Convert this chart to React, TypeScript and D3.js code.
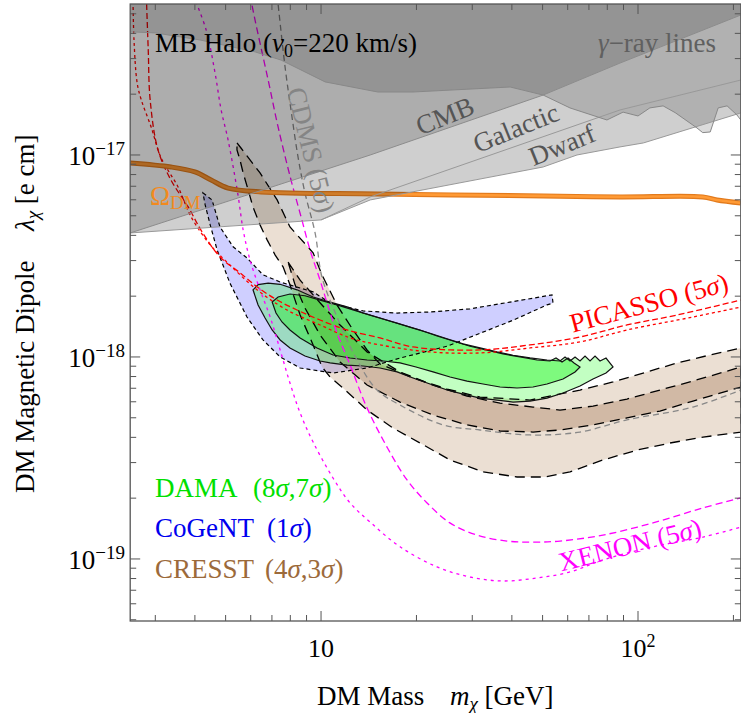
import React from 'react';
import * as d3 from 'd3';

type Pt = [number, number];

const W = 741;
const H = 713;
const FONT = "'Liberation Serif', 'DejaVu Serif', 'Times New Roman', serif";

// axis ranges: mass in GeV, dipole in units of 1e-18 e cm
const MASS_RANGE: [number, number] = [2.5, 211];
const LAMBDA_RANGE: [number, number] = [0.0493, 55.9];
const LAMBDA_EXP = -18;

// indirect / cosmological bounds (region above each curve is excluded)
const GAMMA_MASS = [2.5, 3.0, 4.15, 6.19, 7.48, 10.3, 15.1, 19.5, 39.5, 50.2, 61.0, 79.8, 89.7, 100, 109, 120, 131, 153.5, 160, 169, 179, 191, 205, 211];
const GAMMA_LAMBDA = [40.7, 40.2, 37.1, 32.4, 29.5, 23.0, 20.5, 20.5, 21.7, 19.8, 17.1, 14.9, 16.3, 15.6, 17.1, 17.5, 16.2, 13.6, 12.9, 13.0, 17.1, 17.5, 15.8, 14.9];
const CMB_MASS = [2.5, 10, 14.3, 50.2, 87.7, 211];
const CMB_LAMBDA = [4.11, 8.33, 10.0, 19.8, 28.5, 49.3];
const GALACTIC_MASS = [10, 14.3, 87.7, 211];
const GALACTIC_LAMBDA = [4.77, 6.2, 16.7, 23.5];
const DWARF_MASS = [2.5, 10, 14.3, 50.2, 64.2, 87.7, 104, 211];
const DWARF_LAMBDA = [4.11, 4.77, 5.99, 8.72, 10.0, 10.96, 11.47, 16.15];

// relic abundance line
const OMEGA_MASS = [2.5, 3.36, 4.0, 4.5, 5.09, 6.47, 15.1, 50.2, 87.7, 160, 177.5, 211];
const OMEGA_LAMBDA = [9.13, 8.72, 8.24, 7.52, 6.86, 6.56, 6.41, 6.27, 6.2, 6.2, 5.99, 5.79];

// direct detection limits
const PICASSO_A_MASS = [2.81, 2.85, 2.89, 3.06, 3.36, 3.81, 4.18, 4.80, 5.55, 6.28, 7.27, 8.40, 9.93, 12.08, 15.35, 19.5, 31.7, 45.6, 65.6, 92.3, 132.8, 211];
const PICASSO_A_LAMBDA = [61.9, 33.1, 18.73, 10.59, 7.52, 5.53, 4.25, 3.125, 2.61, 2.225, 1.914, 1.708, 1.524, 1.36, 1.242, 1.121, 1.083, 1.147, 1.256, 1.44, 1.613, 1.914];
const PICASSO_B_MASS = [2.55, 2.57, 2.63, 2.71, 2.91, 3.13, 3.54, 3.89, 4.47, 5.16, 6.28, 7.81, 9.93, 12.35, 15.35, 22.07, 31.74, 45.64, 65.62, 92.3, 149.1, 211];
const PICASSO_B_LAMBDA = [61.9, 37.1, 22.7, 18.73, 13.76, 9.67, 6.94, 4.94, 3.59, 2.853, 2.15, 1.708, 1.44, 1.242, 1.147, 1.059, 1.047, 1.108, 1.187, 1.36, 1.577, 1.767];
const XENON_A_MASS = [5.97, 6.19, 6.81, 7.32, 8.04, 8.65, 9.23, 9.93, 10.45, 11.23, 12.35, 13.97, 16.15, 18.68, 21.6, 25.5, 31.06, 38.6, 46.6, 56.75, 77.5, 111.5, 160.4, 211];
const XENON_A_LAMBDA = [61.9, 46.6, 23.5, 13.76, 7.52, 4.94, 3.39, 2.40, 1.85, 1.314, 0.912, 0.559, 0.358, 0.246, 0.1894, 0.1508, 0.1313, 0.1226, 0.1212, 0.1226, 0.1313, 0.1508, 0.179, 0.2005];
const XENON_B_MASS = [3.95, 4.34, 4.63, 4.84, 5.09, 5.47, 5.68, 5.97, 6.42, 6.91, 7.43, 7.98, 8.59, 9.44, 10.91, 12.35, 14.38, 17.75, 23.23, 29.52, 37.5, 48.0, 61.0, 77.5, 111.5, 160.4, 211];
const XENON_B_LAMBDA = [61.9, 41.6, 25.5, 16.71, 11.87, 6.34, 4.25, 3.02, 2.15, 1.577, 1.083, 0.743, 0.528, 0.379, 0.2517, 0.1894, 0.1508, 0.1149, 0.0913, 0.0814, 0.0778, 0.0805, 0.0862, 0.0989, 0.1149, 0.1283, 0.1438];
const CDMS_MASS = [7.27, 7.70, 8.04, 8.46, 8.90, 9.58, 10.07, 11.23, 12.99, 15.02, 17.75, 24.26, 31.74, 45.64, 65.62, 92.3, 149.1, 211];
const CDMS_LAMBDA = [61.9, 27.3, 16.71, 9.78, 6.485, 4.107, 2.483, 1.577, 0.966, 0.686, 0.578, 0.461, 0.435, 0.411, 0.425, 0.488, 0.565, 0.686];

// signal regions (closed contours)
const DAMA_OUTER_MASS = [6.10, 6.33, 6.81, 7.43, 8.40, 9.44, 10.68, 12.08, 13.57, 15.35, 17.37, 19.51, 22.07, 24.98, 28.05, 31.74, 35.91, 40.34, 45.64, 51.63, 56.75, 58.85, 61.03, 63.29, 65.62, 68.05, 70.57, 73.18, 75.88, 79.26, 83.4, 79.26, 72.12, 65.62, 58.0, 51.63, 45.64, 40.34, 35.91, 31.74, 28.05, 24.98, 22.07, 19.51, 17.37, 15.35, 13.57, 12.08, 10.68, 9.93, 8.90, 7.98, 7.43, 7.01, 6.66, 6.33];
const DAMA_OUTER_LAMBDA = [2.15, 2.28, 2.32, 2.29, 2.15, 1.98, 1.87, 1.77, 1.65, 1.56, 1.47, 1.39, 1.31, 1.23, 1.16, 1.11, 1.06, 1.02, 0.99, 0.966, 0.955, 1.0, 0.955, 1.0, 0.955, 1.01, 0.955, 1.01, 0.955, 0.988, 0.892, 0.833, 0.778, 0.718, 0.663, 0.626, 0.605, 0.598, 0.612, 0.626, 0.655, 0.686, 0.735, 0.787, 0.843, 0.882, 0.902, 0.912, 0.934, 0.955, 1.011, 1.108, 1.214, 1.36, 1.56, 1.81];
const DAMA_INNER_MASS = [7.01, 7.32, 7.98, 8.90, 9.93, 11.23, 12.62, 14.28, 16.15, 18.14, 20.53, 23.23, 26.09, 29.52, 33.39, 37.5, 42.44, 48.02, 52.77, 55.12, 57.58, 60.15, 62.83, 65.62, 63.29, 58.0, 51.63, 46.64, 41.53, 36.7, 32.44, 28.88, 25.53, 22.56, 19.94, 17.75, 15.69, 13.97, 12.35, 10.91, 9.71, 8.59, 7.98, 7.53, 7.21];
const DAMA_INNER_LAMBDA = [1.87, 1.98, 2.05, 2.01, 1.91, 1.81, 1.71, 1.61, 1.52, 1.44, 1.36, 1.27, 1.20, 1.13, 1.08, 1.035, 1.0, 0.966, 0.955, 0.988, 0.944, 0.988, 0.934, 0.892, 0.843, 0.778, 0.735, 0.71, 0.702, 0.71, 0.735, 0.76, 0.796, 0.843, 0.892, 0.934, 0.955, 0.966, 0.988, 1.023, 1.108, 1.242, 1.36, 1.49, 1.65];
const COGENT_MASS = [4.24, 4.53, 4.80, 5.28, 5.84, 6.56, 7.43, 9.44, 10.68, 13.57, 17.37, 22.07, 29.52, 39.47, 49.08, 53.55, 53.93, 51.63, 40.34, 31.74, 24.98, 17.75, 13.97, 10.91, 8.59, 7.43, 6.56, 5.84, 5.16, 4.70, 4.47, 4.31];
const COGENT_LAMBDA = [6.49, 5.99, 4.40, 3.51, 3.09, 2.55, 2.35, 2.10, 1.85, 1.69, 1.65, 1.67, 1.73, 1.87, 1.98, 2.03, 1.85, 1.81, 1.52, 1.31, 1.13, 0.988, 0.882, 0.833, 0.882, 1.0, 1.214, 1.577, 2.319, 3.39, 4.51, 5.66];
const CRESST_OUTER_MASS = [5.43, 5.59, 6.42, 7.27, 7.98, 9.44, 10.07, 11.23, 12.62, 13.97, 15.35, 19.51, 24.98, 31.74, 45.64, 65.62, 83.4, 94.36, 132.8, 168.7, 211.3,
  211.3, 160.4, 126.2, 99.3, 77.5, 61.03, 50.9, 41.53, 32.44, 25.53, 20.53, 16.87, 13.97, 11.73, 10.68, 10.07, 9.44, 8.59, 7.98, 7.59, 7.16, 6.76, 6.42, 6.10, 5.89, 5.68, 5.55, 5.43];
const CRESST_OUTER_LAMBDA = [11.47, 10.83, 8.15, 5.99, 4.40, 3.28, 2.55, 1.808, 1.36, 1.083, 0.923, 0.787, 0.694, 0.633, 0.612, 0.686, 0.752, 0.796, 0.934, 1.023, 1.108,
  0.425, 0.401, 0.375, 0.346, 0.309, 0.27, 0.2546, 0.2546, 0.27, 0.309, 0.375, 0.445, 0.546, 0.702, 0.796, 0.892, 1.147, 1.613, 2.276, 2.794, 3.202, 3.80, 4.506, 5.53, 6.71, 8.147, 9.45, 10.59];
const CRESST_INNER_MASS = [7.87, 8.59, 9.44, 10.07, 11.48, 13.97, 17.75, 22.56, 28.88, 36.7, 46.64, 56.75, 72.12, 92.3, 117.3, 149.1, 211.3,
  211.3, 149.1, 117.3, 92.3, 72.12, 56.75, 46.64, 36.7, 28.88, 22.56, 17.75, 13.97, 11.48, 9.93, 8.90, 8.28];
const CRESST_INNER_LAMBDA = [2.952, 2.40, 2.031, 1.808, 1.44, 1.059, 0.843, 0.726, 0.64, 0.591, 0.565, 0.546, 0.571, 0.619, 0.686, 0.760, 0.892,
  0.71, 0.605, 0.54, 0.499, 0.461, 0.435, 0.425, 0.43, 0.461, 0.516, 0.598, 0.726, 0.944, 1.285, 1.747, 2.276];

const X_MAJOR = [10, 100];
const Y_MAJOR = [0.1, 1, 10];

const pts = (m: number[], l: number[]): Pt[] => m.map((v, i) => [v, l[i]]);

const x = d3.scaleLog().domain(MASS_RANGE).range([130.2, 740.8]);
const y = d3.scaleLog().domain(LAMBDA_RANGE).range([621, 4]);

const straight = d3.line<Pt>().x(d => x(d[0])).y(d => y(d[1]));
const smooth = d3.line<Pt>().x(d => x(d[0])).y(d => y(d[1])).curve(d3.curveCatmullRom.alpha(0.5));
const closed = (p: Pt[]) => (straight(p) || '') + 'Z';
const above = (p: Pt[]) => closed([...p, [p[p.length - 1][0], 200], [p[0][0], 200]]);

function logTicks(lo: number, hi: number) {
  const out: { v: number; major: boolean }[] = [];
  for (let e = -3; e <= 3; e++) {
    for (let k = 1; k <= 9; k++) {
      const v = k * Math.pow(10, e);
      if (v >= lo * 1.001 && v <= hi * 0.999) out.push({ v, major: k === 1 });
    }
  }
  return out;
}

export default function App() {
  const X0 = x(MASS_RANGE[0]);
  const X1 = x(MASS_RANGE[1]);
  const Y0 = y(LAMBDA_RANGE[1]);
  const Y1 = y(LAMBDA_RANGE[0]);
  const xt = logTicks(MASS_RANGE[0], MASS_RANGE[1]);
  const yt = logTicks(LAMBDA_RANGE[0], LAMBDA_RANGE[1]);

  const frame = '#555';
  const sig = <tspan fontStyle="italic">σ</tspan>;
  const fs = 27;

  return (
    <svg width={W} height={H} style={{ position: 'absolute', left: 0, top: 0, background: '#fff' }} fontFamily={FONT}>
      <defs>
        <clipPath id="plotArea">
          <rect x={X0} y={Y0} width={X1 - X0} height={Y1 - Y0} />
        </clipPath>
      </defs>
      <rect width={W} height={H} fill="#fff" />

      <g clipPath="url(#plotArea)">
        {/* signal regions */}
        <path d={closed(pts(COGENT_MASS, COGENT_LAMBDA))} fill="#0000ff" fillOpacity={0.19} />
        <path d={closed(pts(CRESST_OUTER_MASS, CRESST_OUTER_LAMBDA))} fill="rgb(190,150,110)" fillOpacity={0.3} />
        <path d={closed(pts(CRESST_INNER_MASS, CRESST_INNER_LAMBDA))} fill="rgb(150,100,60)" fillOpacity={0.3} />
        <path d={closed(pts(DAMA_OUTER_MASS, DAMA_OUTER_LAMBDA))} fill="#00ff00" fillOpacity={0.24} />
        <path d={closed(pts(DAMA_INNER_MASS, DAMA_INNER_LAMBDA))} fill="#00f000" fillOpacity={0.35} />

        <path d={closed(pts(COGENT_MASS, COGENT_LAMBDA))} fill="none" stroke="#000" strokeWidth={1.2} strokeDasharray="4,3" />
        <path d={closed(pts(CRESST_OUTER_MASS, CRESST_OUTER_LAMBDA))} fill="none" stroke="#000" strokeWidth={1.3} strokeDasharray="10,6" />
        <path d={closed(pts(CRESST_INNER_MASS, CRESST_INNER_LAMBDA))} fill="none" stroke="#000" strokeWidth={1.3} strokeDasharray="10,6" />
        <path d={closed(pts(DAMA_OUTER_MASS, DAMA_OUTER_LAMBDA))} fill="none" stroke="#111" strokeWidth={1.2} />
        <path d={closed(pts(DAMA_INNER_MASS, DAMA_INNER_LAMBDA))} fill="none" stroke="#111" strokeWidth={1.2} />

        {/* exclusion limits */}
        <path d={smooth(pts(PICASSO_A_MASS, PICASSO_A_LAMBDA)) || ''} fill="none" stroke="#ff0000" strokeWidth={1.3} strokeDasharray="6,3" />
        <path d={smooth(pts(PICASSO_B_MASS, PICASSO_B_LAMBDA)) || ''} fill="none" stroke="#ff0000" strokeWidth={1.3} strokeDasharray="3,3" />
        <path d={smooth(pts(XENON_A_MASS, XENON_A_LAMBDA)) || ''} fill="none" stroke="#ff00ff" strokeWidth={1.3} strokeDasharray="7,4" />
        <path d={smooth(pts(XENON_B_MASS, XENON_B_LAMBDA)) || ''} fill="none" stroke="#ff00ff" strokeWidth={1.3} strokeDasharray="3,4" />
        <path d={smooth(pts(CDMS_MASS, CDMS_LAMBDA)) || ''} fill="none" stroke="#888" strokeWidth={1.3} strokeDasharray="6,4" />

        {/* relic abundance */}
        <path d={smooth(pts(OMEGA_MASS, OMEGA_LAMBDA)) || ''} fill="none" stroke="#e27a1c" strokeWidth={5} />
        <path d={smooth(pts(OMEGA_MASS, OMEGA_LAMBDA)) || ''} fill="none" stroke="#ff9a35" strokeWidth={2.6} />

        {/* indirect bounds on top */}
        <path d={above(pts(DWARF_MASS, DWARF_LAMBDA))} fill="#000" fillOpacity={0.19} />
        <path d={above(pts(CMB_MASS, CMB_LAMBDA))} fill="#000" fillOpacity={0.16} />
        <path d={above(pts(GAMMA_MASS, GAMMA_LAMBDA))} fill="#000" fillOpacity={0.14} />
        <path d={straight(pts(DWARF_MASS, DWARF_LAMBDA)) || ''} fill="none" stroke="#999" strokeWidth={1} />
        <path d={straight(pts(GALACTIC_MASS, GALACTIC_LAMBDA)) || ''} fill="none" stroke="#999" strokeWidth={1} />
        <path d={straight(pts(CMB_MASS, CMB_LAMBDA)) || ''} fill="none" stroke="#8c8c8c" strokeWidth={1} />
        <path d={straight(pts(GAMMA_MASS, GAMMA_LAMBDA)) || ''} fill="none" stroke="#888" strokeWidth={1} />
      </g>

      {/* labels in the plot */}
      <text x={155} y={52} fontSize={fs} fill="#000">
        MB Halo (<tspan fontStyle="italic">v</tspan><tspan fontSize={18} dy={5}>0</tspan><tspan dy={-5}>=220 km/s)</tspan>
      </text>
      <text x={598} y={52} fontSize={fs} fill="#606060">
        <tspan fontStyle="italic">γ</tspan>−ray lines
      </text>
      <text transform="translate(445,116) rotate(-22)" textAnchor="middle" dominantBaseline="central" fontSize={fs} fill="#555">CMB</text>
      <text transform="translate(516,128) rotate(-22)" textAnchor="middle" dominantBaseline="central" fontSize={fs} fill="#555">Galactic</text>
      <text transform="translate(562,145) rotate(-22)" textAnchor="middle" dominantBaseline="central" fontSize={fs} fill="#555">Dwarf</text>
      <text transform="translate(311,150) rotate(76)" textAnchor="middle" dominantBaseline="central" fontSize={fs} fill="#858585">
        CDMS (5{sig})
      </text>
      <text x={150} y={205} fontSize={fs} fill="#f28a1e">
        Ω<tspan fontSize={19} dy={4}>DM</tspan>
      </text>
      <text transform="translate(649,303) rotate(-15)" textAnchor="middle" dominantBaseline="central" fontSize={fs} fill="#ff0000">
        PICASSO (5{sig})
      </text>
      <text transform="translate(630,545) rotate(-14)" textAnchor="middle" dominantBaseline="central" fontSize={fs} fill="#ff00ff">
        XENON (5{sig})
      </text>

      {/* legend */}
      <text x={155} y={497} fontSize={fs} fill="#00e000">
        DAMA<tspan x={253}>(8</tspan>{sig},7{sig})
      </text>
      <text x={155} y={537} fontSize={fs} fill="#0000ee">
        CoGeNT<tspan x={267}>(1</tspan>{sig})
      </text>
      <text x={155} y={578} fontSize={fs} fill="#9c6a3a">
        CRESST<tspan x={265}>(4</tspan>{sig},3{sig})
      </text>

      {/* frame and ticks */}
      <rect x={X0} y={Y0} width={X1 - X0} height={Y1 - Y0} fill="none" stroke={frame} strokeWidth={1.3} />
      {xt.map(t => (
        <g key={'x' + t.v} stroke={frame} strokeWidth={1}>
          <line x1={x(t.v)} x2={x(t.v)} y1={Y1} y2={Y1 - (t.major ? 10 : 6)} />
          <line x1={x(t.v)} x2={x(t.v)} y1={Y0} y2={Y0 + (t.major ? 10 : 6)} />
        </g>
      ))}
      {yt.map(t => (
        <g key={'y' + t.v} stroke={frame} strokeWidth={1}>
          <line x1={X0} x2={X0 + (t.major ? 10 : 6)} y1={y(t.v)} y2={y(t.v)} />
          <line x1={X1} x2={X1 - (t.major ? 10 : 6)} y1={y(t.v)} y2={y(t.v)} />
        </g>
      ))}
      {X_MAJOR.map(v => {
        const e = Math.round(Math.log10(v));
        return (
          <text key={'xl' + v} x={x(v)} y={657} textAnchor="middle" fontSize={26}>
            10{e > 1 ? <tspan fontSize={18} dy={-10}>{e}</tspan> : null}
          </text>
        );
      })}
      {Y_MAJOR.map(v => {
        const e = Math.round(Math.log10(v)) + LAMBDA_EXP;
        return (
          <text key={'yl' + v} x={125} y={y(v) + 10} textAnchor="end" fontSize={27}>
            10<tspan fontSize={19} dy={-10}>{'−' + Math.abs(e)}</tspan>
          </text>
        );
      })}

      {/* axis titles */}
      <text x={317} y={705} fontSize={fs}>
        DM Mass<tspan x={450} fontStyle="italic">m</tspan><tspan fontSize={19} dy={5} fontStyle="italic">χ</tspan><tspan dy={-5}> [GeV]</tspan>
      </text>
      <text transform="translate(34,493) rotate(-90)" fontSize={fs}>
        DM Magnetic Dipole<tspan x={262} fontStyle="italic">λ</tspan><tspan fontSize={19} dy={5} fontStyle="italic">χ</tspan><tspan dy={-5}> [e cm]</tspan>
      </text>
    </svg>
  );
}
